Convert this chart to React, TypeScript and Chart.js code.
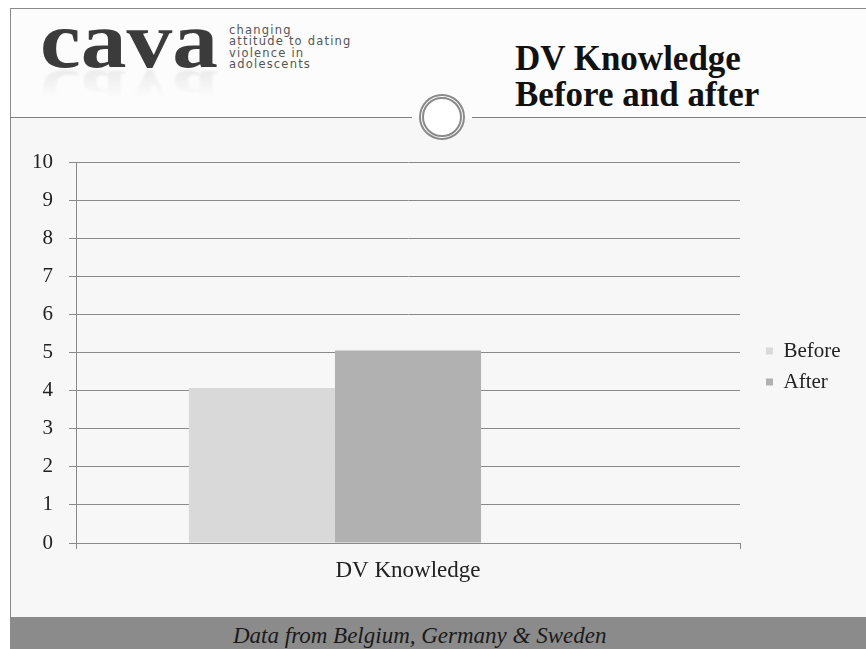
import React, { useEffect, useRef } from "react";
import { Chart, registerables } from "chart.js";

Chart.register(...registerables);

// Survey result: mean DV knowledge score before and after the programme
const categories = ["DV Knowledge"];
const beforeValues = [4.07];
const afterValues = [5.05];
const seriesLabels = ["Before", "After"];
const yMin = 0;
const yMax = 10;
const yStep = 1;

const titleLines = ["DV Knowledge", "Before and after"];
const logoWord = "cava";
const logoTagline = ["changing", "attitude to dating", "violence in", "adolescents"];
const footerText = "Data from Belgium, Germany & Sweden";

const SERIF = "'Liberation Serif', 'Times New Roman', serif";
const LINE = "#8a8a8a";

// moves the right-hand legend a little below the middle of the plot
const legendOffset = {
  id: "legendOffset",
  afterLayout(chart: any) {
    const lg = chart.legend;
    if (lg) {
      lg.top += 14;
      lg.bottom += 14;
    }
  },
};

function BarChart() {
  const ref = useRef<HTMLCanvasElement | null>(null);

  useEffect(() => {
    if (!ref.current) return;
    const chart = new Chart(ref.current, {
      type: "bar",
      data: {
        labels: categories,
        datasets: [
          {
            label: seriesLabels[0],
            data: beforeValues,
            backgroundColor: "#d9d9d9",
            borderWidth: 0,
          },
          {
            label: seriesLabels[1],
            data: afterValues,
            backgroundColor: "#b1b1b1",
            borderWidth: 0,
          },
          // empty slot that keeps the two bars left of the category centre
          {
            label: "",
            data: [null],
            backgroundColor: "rgba(0,0,0,0)",
            borderWidth: 0,
          },
        ],
      },
      options: {
        responsive: false,
        animation: false,
        devicePixelRatio: 1,
        datasets: {
          bar: { categoryPercentage: 0.66, barPercentage: 1.0 },
        },
        layout: { padding: { top: 32, bottom: 12, left: 0, right: 0 } },
        scales: {
          x: {
            type: "category",
            offset: true,
            grid: {
              display: true,
              drawOnChartArea: false,
              drawTicks: true,
              tickLength: 6,
              color: LINE,
            },
            border: { display: true, color: LINE },
            ticks: {
              font: { family: SERIF, size: 23 },
              color: "#222",
              padding: 8,
            },
            afterFit: (s: any) => {
              s.height = 45;
            },
          },
          y: {
            min: yMin,
            max: yMax,
            ticks: {
              stepSize: yStep,
              font: { family: SERIF, size: 21 },
              color: "#222",
              padding: 16,
            },
            grid: { color: LINE, tickLength: 7, lineWidth: 1 },
            border: { display: true, color: LINE },
            afterFit: (s: any) => {
              s.width = 65;
            },
          },
          gap: {
            position: "right",
            display: true,
            min: yMin,
            max: yMax,
            grid: { display: false, drawTicks: false },
            ticks: { display: false },
            border: { display: false },
            afterFit: (s: any) => {
              s.width = 16;
            },
          },
        },
        plugins: {
          tooltip: { enabled: false },
          legend: {
            position: "right",
            align: "center",
            fullSize: false,
            maxWidth: 90,
            labels: {
              boxWidth: 7,
              boxHeight: 7,
              padding: 10,
              color: "#222",
              font: { family: SERIF, size: 21 },
              filter: (item: any) => item.text !== "",
            },
          },
        },
      },
      plugins: [legendOffset],
    } as any);
    return () => chart.destroy();
  }, []);

  return (
    <canvas
      ref={ref}
      width={835}
      height={470}
      style={{ position: "absolute", left: 11, top: 130, width: 835, height: 470 }}
    />
  );
}

export default function App() {
  return (
    <div
      style={{
        position: "fixed",
        left: 0,
        top: 0,
        width: 866,
        height: 649,
        overflow: "hidden",
        background: "#ffffff",
      }}
    >
      {/* slide frame */}
      <div
        style={{
          position: "absolute",
          left: 10,
          top: 8,
          right: 0,
          bottom: 0,
          borderLeft: `1px solid ${LINE}`,
          borderTop: `1px solid ${LINE}`,
          background: "#fcfcfc",
        }}
      />
      {/* body panel */}
      <div
        style={{
          position: "absolute",
          left: 11,
          top: 118,
          right: 0,
          height: 499,
          background: "#f7f7f7",
        }}
      />
      {/* header divider with ring */}
      <div style={{ position: "absolute", left: 10, top: 117, width: 402, height: 1, background: "#7f7f7f" }} />
      <div style={{ position: "absolute", left: 472, top: 117, width: 394, height: 1, background: "#7f7f7f" }} />
      <div
        style={{
          position: "absolute",
          left: 442 - 23,
          top: 117 - 23,
          width: 46,
          height: 46,
          boxSizing: "border-box",
          borderRadius: "50%",
          border: "5px double #8a8a8a",
          background: "#ffffff",
        }}
      />

      {/* logo */}
      <div
        style={{
          position: "absolute",
          left: 40,
          top: 0,
          fontFamily: SERIF,
          fontWeight: 700,
          fontSize: 80,
          lineHeight: "80px",
          color: "#3b3b3b",
          transform: "scaleX(1.145)",
          transformOrigin: "0 0",
          whiteSpace: "nowrap",
        }}
      >
        {logoWord}
      </div>
      <div
        style={{
          position: "absolute",
          left: 40,
          top: 0,
          fontFamily: SERIF,
          fontWeight: 700,
          fontSize: 80,
          lineHeight: "80px",
          color: "#3b3b3b",
          transform: "scale(1.145, -1)",
          transformOrigin: "0 69px",
          opacity: 0.12,
          whiteSpace: "nowrap",
          WebkitMaskImage: "linear-gradient(to top, rgba(0,0,0,1) 0px, rgba(0,0,0,0) 40px)",
          maskImage: "linear-gradient(to top, rgba(0,0,0,1) 0px, rgba(0,0,0,0) 40px)",
          filter: "blur(1px)",
        }}
      >
        {logoWord}
      </div>
      <div
        style={{
          position: "absolute",
          left: 229,
          top: 25,
          fontFamily: "'DejaVu Sans', sans-serif",
          fontSize: 11.5,
          lineHeight: "11.3px",
          letterSpacing: "1.2px",
          color: "#555",
          whiteSpace: "nowrap",
        }}
      >
        {logoTagline.map((t) => (
          <div key={t}>{t}</div>
        ))}
      </div>

      {/* title */}
      <div
        style={{
          position: "absolute",
          left: 515,
          top: 41,
          fontFamily: SERIF,
          fontWeight: 700,
          fontSize: 35,
          lineHeight: "36px",
          color: "#111",
          whiteSpace: "nowrap",
        }}
      >
        {titleLines.map((t) => (
          <div key={t}>{t}</div>
        ))}
      </div>

      <BarChart />

      {/* footer band */}
      <div
        style={{
          position: "absolute",
          left: 10,
          top: 617,
          right: 0,
          height: 32,
          background: "#8b8b8b",
        }}
      />
      <div
        style={{
          position: "absolute",
          left: 233,
          top: 622,
          fontFamily: SERIF,
          fontStyle: "italic",
          fontSize: 23,
          lineHeight: "28px",
          color: "#1a1a1a",
          whiteSpace: "nowrap",
        }}
      >
        {footerText}
      </div>
    </div>
  );
}
